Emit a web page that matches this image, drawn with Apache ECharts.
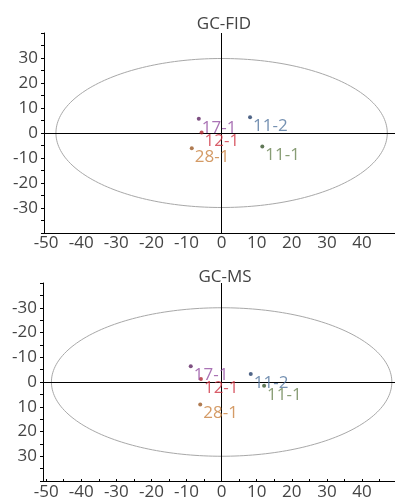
<!DOCTYPE html>
<html><head><meta charset="utf-8">
<script src="https://cdn.jsdelivr.net/npm/echarts@6/dist/echarts.min.js"></script>
<style>html,body{margin:0;padding:0;background:#fff}#c{width:395px;height:501px}</style>
</head><body><div id="c"></div>
<script>
const samples = ['17-1', '12-1', '28-1', '11-2', '11-1'];
const fidX = [-6.5, -5.7, -8.5, 8.1, 11.6];
const fidY = [5.7, 0.2, -6.1, 6.3, -5.4];
const msX = [-8.8, -5.9, -6.1, 8.3, 12.1];
const msY = [-6.4, -1.2, 9.1, -3.2, 1.5];
const dotColors = ['#5e2463', '#b0252f', '#9c5a25', '#26406a', '#38552c'];
const labelColors = ['#9550a3', '#cf3444', '#c98240', '#52759f', '#6a8552'];
const xTickLabels = [-50, -40, -30, -20, -10, 0, 10, 20, 30, 40];
const yTickLabels = [-30, -20, -10, 0, 10, 20, 30];
const minorX = [-50, -45, -40, -35, -30, -25, -20, -15, -10, -5, 0, 5, 10, 15, 20, 25, 30, 35, 40, 45];
const minorY = [-40, -35, -30, -25, -20, -15, -10, -5, 0, 5, 10, 15, 20, 25, 30, 35, 40];
// ellipse: [centerX, centerY, radiusX, radiusY]
const fidEllipse = [0, 0, 47.2, 29.8];
const msEllipse = [0, 0, 48.5, 30.0];
const titles = ['GC-FID', 'GC-MS'];

const FONT = "'Open Sans', 'Noto Sans', sans-serif";
const TXT = '#444';
const FS = 17;

function ellipseRender(params, api) {
  const cx = api.value(0), cy = api.value(1), rx = api.value(2), ry = api.value(3);
  const pts = [];
  for (let i = 0; i <= 240; i++) {
    const t = i / 240 * 2 * Math.PI;
    pts.push(api.coord([cx + rx * Math.cos(t), cy + ry * Math.sin(t)]));
  }
  return { type: 'polyline', shape: { points: pts }, style: { fill: null, stroke: '#a8a8a8', lineWidth: 1 } };
}

function pointData(xs, ys) {
  return samples.map((s, i) => ({
    value: [xs[i], ys[i]], name: s,
    itemStyle: { color: dotColors[i] },
    label: { color: labelColors[i] }
  }));
}

function xAxisCfg(gi, min, max, ticksShow, margin) {
  return {
    type: 'value', gridIndex: gi, min: min, max: max,
    splitLine: { show: false },
    axisLine: { show: true, onZero: false, lineStyle: { color: '#000', width: 1 } },
    axisTick: { show: ticksShow, inside: true, length: 2, customValues: minorX, lineStyle: { color: '#000' } },
    axisLabel: { customValues: xTickLabels, color: TXT, fontSize: FS, fontFamily: FONT, margin: margin }
  };
}
function yAxisCfg(gi, inverse) {
  return {
    type: 'value', gridIndex: gi, min: -40, max: 40, inverse: inverse,
    splitLine: { show: false },
    axisLine: { show: true, onZero: false, lineStyle: { color: '#000', width: 1 } },
    axisTick: { show: true, inside: false, length: 3, customValues: minorY, lineStyle: { color: '#000' } },
    axisLabel: { customValues: yTickLabels, color: TXT, fontSize: FS, fontFamily: FONT, margin: 6 }
  };
}
function scatterSeries(gi, xs, ys) {
  return {
    type: 'scatter', xAxisIndex: gi, yAxisIndex: gi,
    symbolSize: 4, data: pointData(xs, ys),
    label: { show: true, position: 'right', distance: 1, offset: [0, 9], formatter: '{b}', fontSize: FS, fontFamily: FONT },
    markLine: {
      silent: true, symbol: 'none', animation: false,
      label: { show: false },
      lineStyle: { color: '#000', type: 'solid', width: 1 },
      data: [{ xAxis: 0 }, { yAxis: 0 }]
    },
    z: 5
  };
}
function ellipseSeries(gi, e) {
  return { type: 'custom', xAxisIndex: gi, yAxisIndex: gi, renderItem: ellipseRender, data: [e], clip: false, silent: true, z: 2 };
}

const chart = echarts.init(document.getElementById('c'));
chart.setOption({
  animation: false,
  backgroundColor: '#fff',
  title: [
    { text: titles[0], left: 219, top: 11, textAlign: 'center', textStyle: { fontSize: FS, fontWeight: 'normal', color: TXT, fontFamily: FONT } },
    { text: titles[1], left: 220, top: 264, textAlign: 'center', textStyle: { fontSize: FS, fontWeight: 'normal', color: TXT, fontFamily: FONT } }
  ],
  grid: [
    { left: 44, top: 33, width: 351, height: 200 },
    { left: 43, top: 283, width: 352, height: 198.5 }
  ],
  xAxis: [xAxisCfg(0, -50.6, 49.4, false, 2), xAxisCfg(1, -50.9, 49.4, true, 3)],
  yAxis: [yAxisCfg(0, false), yAxisCfg(1, true)],
  series: [
    ellipseSeries(0, fidEllipse), scatterSeries(0, fidX, fidY),
    ellipseSeries(1, msEllipse), scatterSeries(1, msX, msY)
  ]
});
</script>
</body></html>
